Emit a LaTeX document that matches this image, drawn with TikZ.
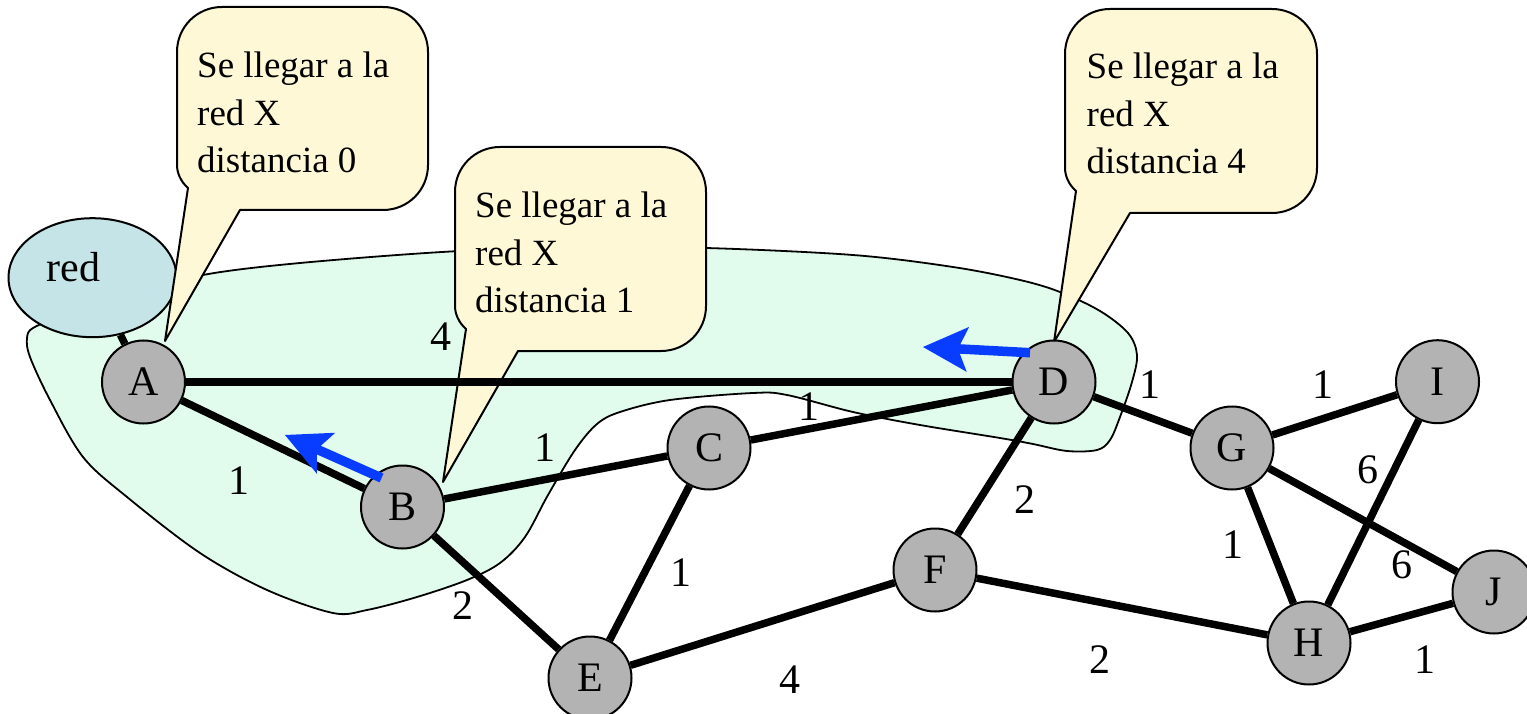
\documentclass[tikz,border=0pt]{standalone}
\usepackage{fontspec}
\setmainfont{Liberation Serif}
\usetikzlibrary{shapes.geometric,arrows.meta}
\pgfdeclarelayer{back}
\pgfdeclarelayer{mid}
\pgfsetlayers{back,mid,main}
\definecolor{blobc}{HTML}{E1FCEC}
\definecolor{redc}{HTML}{C4E4E8}
\definecolor{calloutc}{HTML}{FFF8D6}
\definecolor{nodegray}{HTML}{B3B3B3}
\definecolor{arrowblue}{RGB}{8,60,255}
\begin{document}
\begin{tikzpicture}[x=1pt,y=-1pt,
  gnode/.style={circle, draw, line width=2pt, fill=nodegray, minimum size=83pt, inner sep=0pt, font=\fontsize{42}{50}\selectfont},
  edge/.style={line width=7.5pt},
  wlabel/.style={font=\fontsize{42}{50}\selectfont, inner sep=0pt},
  ctext/.style={font=\fontsize{37}{47.5}\selectfont, align=left, anchor=north west, inner sep=0pt},
  cbox/.style={draw, line width=2pt, fill=calloutc, line join=round},
  blobstyle/.style={draw, line width=1.8pt, fill=blobc},
  bluearrow/.style={draw=arrowblue, line width=9.5pt, -{Stealth[length=45pt,width=45pt,inset=10pt,line width=0pt,fill=arrowblue]}}
]
\useasboundingbox (0,0) rectangle (1527,714);

\begin{pgfonlayer}{back}
% region
\draw[blobstyle] plot[smooth cycle, tension=0.55] coordinates {
 (33,328) (60,318) (150,292) (203,275) (300,263) (460,251) (600,248) (706,248)
 (853,255) (953,267) (1020,280) (1060,292) (1100,311) (1128,333) (1137,355)
 (1132,382) (1120,417) (1110,440) (1097,450) (1067,451) (1033,444) (1000,438)
 (920,425) (853,412) (787,395) (753,393) (670,400) (620,412) (597,424) (575,450)
 (548,495) (525,537) (500,563) (467,580) (417,597) (367,610) (333,613) (267,590)
 (200,553) (127,497) (83,457) (50,400) (30,357) (27,338)};
% red ellipse
\node[ellipse, draw, line width=2pt, fill=redc, minimum width=168pt, minimum height=119pt, inner sep=0pt] (red) at (92.5,277.7) {};
\node[font=\fontsize{42}{50}\selectfont, anchor=base, inner sep=0pt] (redtext) at (73.5,282) {red};
% callouts
\draw[cbox] (240,210) -- (383,210) .. controls (408,210) and (428,190) .. (428,165)
  -- (428,52) .. controls (428,27) and (408,7) .. (383,7)
  -- (222,7) .. controls (197,7) and (177,27) .. (177,52)
  -- (177,165) .. controls (177,172) and (180,181) .. (188,188) -- (165,341) -- cycle;
\node[ctext] (t1) at (197,51.7) {Se llegar a la\\red X\\distancia 0};
\draw[cbox] (518,351) -- (661,351) .. controls (686,351) and (706,331) .. (706,306)
  -- (706,192) .. controls (706,167) and (686,147) .. (661,147)
  -- (500,147) .. controls (475,147) and (455,167) .. (455,192)
  -- (455,306) .. controls (455,313) and (458,322) .. (466,329) -- (443,482) -- cycle;
\node[ctext] (t2) at (475,191.7) {Se llegar a la\\red X\\distancia 1};
\draw[cbox] (1130,213) -- (1272,213) .. controls (1297,213) and (1317,193) .. (1317,168)
  -- (1317,54) .. controls (1317,29) and (1297,9) .. (1272,9)
  -- (1110,9) .. controls (1085,9) and (1065,29) .. (1065,54)
  -- (1065,168) .. controls (1065,175) and (1068,184) .. (1076,191) -- (1054,342) -- cycle;
\node[ctext] (t3) at (1086.5,53) {Se llegar a la\\red X\\distancia 4};
\end{pgfonlayer}

% graph nodes
\node[gnode] (A) at (143.5,382) {A};
\node[gnode] (B) at (402.5,507) {B};
\node[gnode] (C) at (709,448) {C};
\node[gnode] (D) at (1054,382) {D};
\node[gnode] (E) at (590,678) {E};
\node[gnode] (F) at (935,570) {F};
\node[gnode] (G) at (1232,448) {G};
\node[gnode] (H) at (1309,643) {H};
\node[gnode] (I) at (1437.5,381.7) {I};
\node[gnode] (J) at (1494,592) {J};

\begin{pgfonlayer}{mid}
\draw[edge] (red) -- (A);
\draw[edge] (A) -- (D);
\draw[edge] (A) -- (B);
\draw[edge] (B) -- (C);
\draw[edge] (B) -- (E);
\draw[edge] (C) -- (D);
\draw[edge] (C) -- (E);
\draw[edge] (D) -- (G);
\draw[edge] (D) -- (F);
\draw[edge] (E) -- (F);
\draw[edge] (F) -- (H);
\draw[edge] (G) -- (I);
\draw[edge] (G) -- (H);
\draw[edge] (G) -- (J);
\draw[edge] (I) -- (H);
\draw[edge] (H) -- (J);
\end{pgfonlayer}

% weights
\node[wlabel] (w1) at (441,337) {4};
\node[wlabel] (w2) at (239,481) {1};
\node[wlabel] (w3) at (545,448) {1};
\node[wlabel] (w4) at (809,407) {1};
\node[wlabel] (w5) at (463,606) {2};
\node[wlabel] (w6) at (681,573) {1};
\node[wlabel] (w7) at (1025,500) {2};
\node[wlabel] (w8) at (1150,385) {1};
\node[wlabel] (w9) at (1323,385) {1};
\node[wlabel] (w10) at (1368,470) {6};
\node[wlabel] (w11) at (1233,545) {1};
\node[wlabel] (w12) at (1402,565) {6};
\node[wlabel] (w13) at (790,680) {4};
\node[wlabel] (w14) at (1100,660) {2};
\node[wlabel] (w15) at (1425,660) {1};

% blue arrows
\coordinate (s1) at (381.5,478);
\coordinate (e1) at (285,435);
\coordinate (s2) at (1030,352.7);
\coordinate (e2) at (923,347);
\draw[bluearrow] (s1) -- (e1);
\draw[bluearrow] (s2) -- (e2);
\end{tikzpicture}
\end{document}
